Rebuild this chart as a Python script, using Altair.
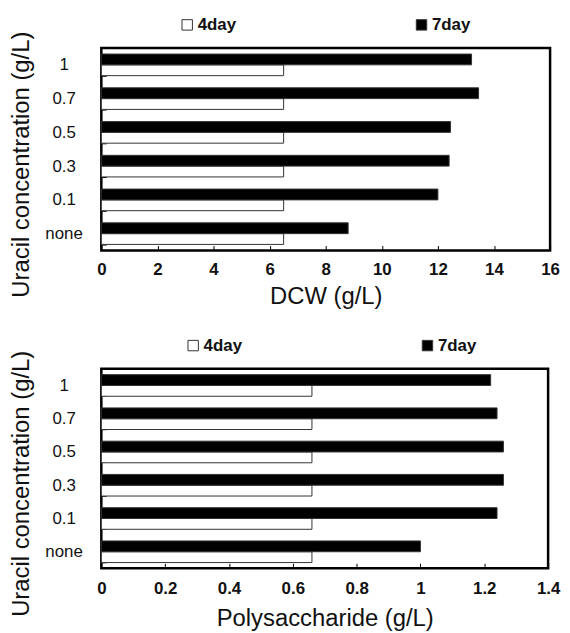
import altair as alt
import pandas as pd

categories = ["1", "0.7", "0.5", "0.3", "0.1", "none"]
series = ["4day", "7day"]
dcw_4day = [6.5, 6.5, 6.5, 6.5, 6.5, 6.5]
dcw_7day = [13.2, 13.45, 12.45, 12.4, 12.0, 8.8]
ps_4day = [0.66, 0.66, 0.66, 0.66, 0.66, 0.66]
ps_7day = [1.22, 1.24, 1.26, 1.26, 1.24, 1.0]
dcw_ticks = [0, 2, 4, 6, 8, 10, 12, 14, 16]
ps_ticks = [0, 0.2, 0.4, 0.6, 0.8, 1.0, 1.2, 1.4]

FONT = "Liberation Sans"
INK = "#111111"


def make_df(v4, v7):
    rows = []
    for c, a, b in zip(categories, v4, v7):
        rows.append({"conc": c, "day": "4day", "value": a})
        rows.append({"conc": c, "day": "7day", "value": b})
    return pd.DataFrame(rows)


def panel(df, xmax, ticks, xtitle, w, h, lx, lpad, tpad):
    return (
        alt.Chart(df)
        .mark_bar(stroke="#333333", strokeWidth=1)
        .encode(
            y=alt.Y(
                "conc:N",
                sort=categories,
                scale=alt.Scale(paddingInner=0.36, paddingOuter=0.18),
                axis=alt.Axis(
                    title="Uracil concentration (g/L)",
                    titleFontSize=24,
                    titleFontWeight="normal",
                    titleFont=FONT,
                    titleColor=INK,
                    titlePadding=11,
                    titleY=h / 2 + 15,
                    offset=-5,
                    tickSize=5,
                    tickBand="extent",
                    tickColor="#000000",
                    domain=False,
                    labelAlign="center",
                    labelPadding=38,
                    labelFontSize=17,
                    labelFont=FONT,
                    labelColor=INK,
                ),
            ),
            yOffset=alt.YOffset(
                "day:N",
                sort=["7day", "4day"],
                scale=alt.Scale(paddingInner=0, paddingOuter=0),
            ),
            x=alt.X(
                "value:Q",
                scale=alt.Scale(domain=[0, xmax], nice=False, zero=True),
                axis=alt.Axis(
                    title=xtitle,
                    titleFontSize=24,
                    titleFontWeight="normal",
                    titleFont=FONT,
                    titleColor=INK,
                    titlePadding=tpad,
                    values=ticks,
                    format="~g",
                    offset=-5,
                    tickSize=5,
                    tickColor="#000000",
                    domain=False,
                    grid=False,
                    labelFlush=False,
                    labelOverlap=False,
                    labelFontWeight="bold",
                    labelFontSize=17,
                    labelFont=FONT,
                    labelColor=INK,
                    labelPadding=lpad,
                ),
            ),
            color=alt.Color(
                "day:N",
                scale=alt.Scale(domain=series, range=["#ffffff", "#000000"]),
                legend=alt.Legend(
                    title=None,
                    orient="none",
                    legendX=lx,
                    legendY=-32,
                    direction="horizontal",
                    columnPadding=178,
                    symbolType="square",
                    symbolSize=110,
                    symbolStrokeColor="#333333",
                    symbolStrokeWidth=1,
                    labelFontWeight="bold",
                    labelFontSize=17,
                    labelFont=FONT,
                    labelColor=INK,
                    labelOffset=2,
                    padding=0,
                ),
            ),
        )
        .properties(width=w, height=h)
    )


top = panel(make_df(dcw_4day, dcw_7day), 16, dcw_ticks, "DCW (g/L)", 452, 204, 78, 11, 7)
bottom = panel(make_df(ps_4day, ps_7day), 1.4, ps_ticks, "Polysaccharide (g/L)", 450, 201, 84, 12, 11)

chart = (
    alt.vconcat(top, bottom, spacing=25)
    .resolve_legend(color="independent")
    .resolve_scale(color="independent")
    .properties(padding={"left": 0, "top": 4, "right": 0, "bottom": 0}, background="#ffffff")
    .configure_view(stroke="#000000", strokeWidth=2.5)
)

chart.save("out.html", embed_options={"renderer": "svg", "actions": False})
